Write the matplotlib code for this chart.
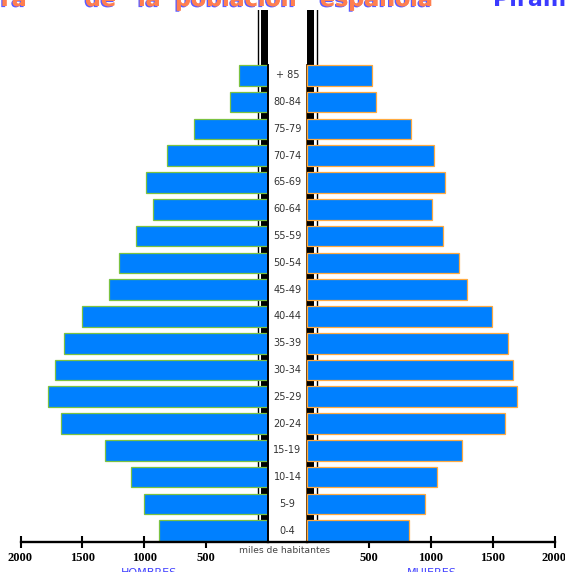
import matplotlib
matplotlib.use("Agg")
import matplotlib.pyplot as plt
import matplotlib.patheffects as pe

# ---------------- data ----------------
ages = ['0-4', '5-9', '10-14', '15-19', '20-24', '25-29', '30-34', '35-39',
        '40-44', '45-49', '50-54', '55-59', '60-64', '65-69', '70-74',
        '75-79', '80-84', '+ 85']
hombres = [880, 1006, 1111, 1318, 1676, 1776, 1722, 1651, 1501, 1288,
           1207, 1065, 928, 987, 820, 600, 312, 234]
mujeres = [828, 957, 1049, 1251, 1603, 1700, 1668, 1627, 1498, 1291,
           1232, 1098, 1009, 1116, 1025, 839, 559, 525]
ticks_left = [2000, 1500, 1000, 500]
ticks_right = [500, 1000, 1500, 2000]
tick_labels_left = ['2000', '1500', '1000', '500']
tick_labels_right = ['500', '1000', '1500', '2000']

# ---------------- layout (pixels) ----------------
W, H = 565, 572
fig = plt.figure(figsize=(W / 100, H / 100), dpi=100)
fig.patch.set_facecolor('white')

y_bot, y_top = 542, 10
pitch = 26.79
ylo = -0.42
yhi = ylo + (y_bot - y_top) / pitch

def rect(x0, x1):
    return [x0 / W, (H - y_bot) / H, (x1 - x0) / W, (y_bot - y_top) / H]

axL = fig.add_axes(rect(20.5, 268.3))
axC = fig.add_axes(rect(268.3, 306.7))
axR = fig.add_axes(rect(306.7, 554.5))

BAR = '#0080ff'
bar_h = 0.77
ypos = list(range(len(ages)))

# decorative black vertical structure behind the bars
axL.axvspan(0, 59, color='black', zorder=0, lw=0)
axL.axvline(83, color='black', lw=1.0, zorder=0)
axR.axvspan(0, 59, color='black', zorder=0, lw=0)
axR.axvline(86, color='black', lw=1.0, zorder=0)

axL.barh(ypos, hombres, height=bar_h, color=BAR, edgecolor='#7cc242',
         linewidth=0.9, zorder=2)
axR.barh(ypos, mujeres, height=bar_h, color=BAR, edgecolor='#ffaa40',
         linewidth=0.9, zorder=2)

axL.set_xlim(2000, 0)
axR.set_xlim(0, 2000)
for ax in (axL, axC, axR):
    ax.set_ylim(ylo, yhi)
    ax.set_facecolor('none')
    for s in ('top', 'left', 'right'):
        ax.spines[s].set_visible(False)
    ax.spines['bottom'].set_linewidth(1.7)
    ax.spines['bottom'].set_color('black')
    ax.set_yticks([])

for ax in (axL, axR):
    ax.tick_params(axis='x', direction='inout', length=8, width=1.5,
                   pad=3, colors='black')
axL.set_xticks(ticks_left)
axL.set_xticklabels(tick_labels_left)
axR.set_xticks(ticks_right)
axR.set_xticklabels(tick_labels_right)
for ax in (axL, axR):
    for lbl in ax.get_xticklabels():
        lbl.set_fontfamily('Liberation Serif')
        lbl.set_fontweight('bold')
        lbl.set_fontsize(9)

# center column
axC.set_xlim(0, 1)
axC.set_xticks([])
bar_top = ypos[-1] + bar_h / 2
axC.plot([0, 0], [ylo, bar_top], color='black', lw=1.4, clip_on=False, zorder=3)
axC.plot([1, 1], [ylo, bar_top], color='#7a4a10', lw=1.4, clip_on=False, zorder=3)
for y, lab in zip(ypos, ages):
    axC.text(0.5, y, lab, ha='center', va='center', fontsize=7,
             color='#333333', family='DejaVu Sans')

fig.text(284.5 / W, (H - 550.5) / H, 'miles de habitantes', ha='center',
         va='center', fontsize=6.6, color='#444444')
fig.text(148.5 / W, (H - 568) / H, 'HOMBRES', ha='center', va='top',
         fontsize=8, color='#4444ff')
fig.text(432 / W, (H - 568) / H, 'MUJERES', ha='center', va='top',
         fontsize=8, color='#4444ff')

# title (cut off at the top of the picture)
shadow = [pe.withSimplePatchShadow(offset=(-1.0, -0.8), shadow_rgbFace='#4a4aff',
                                   alpha=0.9), pe.Normal()]
base_y = (H - 6.0) / H
title_words = [('Estructura', 27, 'right'), ('de', 85, 'left'), ('la', 138, 'left'),
               ('población', 175, 'left'), ('española', 320, 'left')]
for word, xpix, ha in title_words:
    fig.text(xpix / W, base_y, word, ha=ha, va='baseline', fontsize=16,
             weight='bold', color='#ff7f50', path_effects=shadow)
fig.text(493 / W, base_y, 'Pirámide de población', ha='left', va='baseline',
         fontsize=16, weight='bold', color='#3a3aff')

fig.savefig('out.png', dpi=100, facecolor='white')
